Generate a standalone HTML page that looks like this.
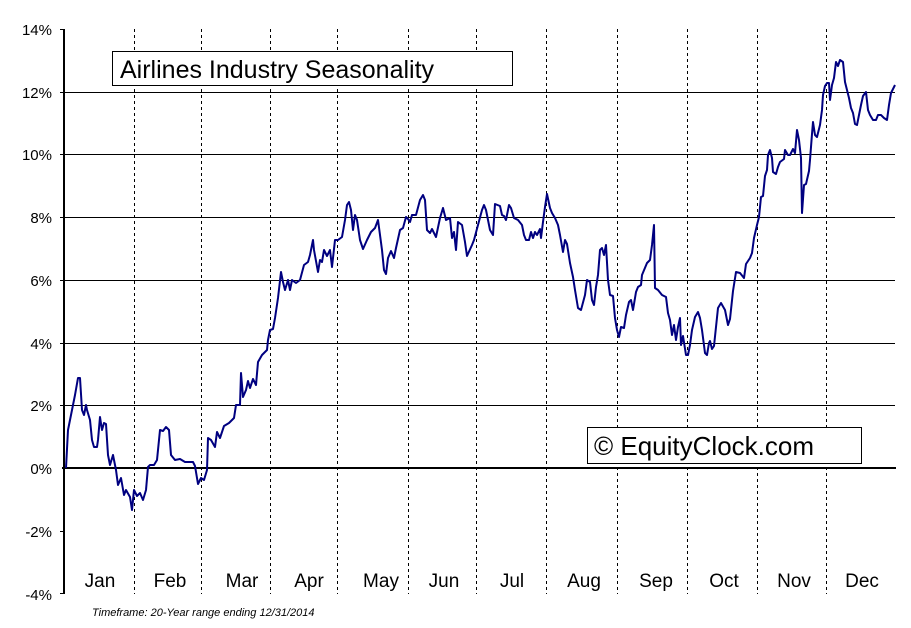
<!DOCTYPE html>
<html><head><style>
body{margin:0;background:#fff;}
svg text{font-family:"Liberation Sans",Arial,sans-serif;}
</style></head><body>
<svg width="911" height="623" viewBox="0 0 911 623" xmlns="http://www.w3.org/2000/svg">
<rect width="911" height="623" fill="#fff"/>
<g stroke="#000" stroke-width="1" stroke-dasharray="3,3" shape-rendering="crispEdges">
<line x1="134.5" y1="29" x2="134.5" y2="594"/><line x1="201.5" y1="29" x2="201.5" y2="594"/><line x1="270.5" y1="29" x2="270.5" y2="594"/><line x1="337.5" y1="29" x2="337.5" y2="594"/><line x1="408.5" y1="29" x2="408.5" y2="594"/><line x1="476.5" y1="29" x2="476.5" y2="594"/><line x1="546.5" y1="29" x2="546.5" y2="594"/><line x1="617.5" y1="29" x2="617.5" y2="594"/><line x1="687.5" y1="29" x2="687.5" y2="594"/><line x1="757.5" y1="29" x2="757.5" y2="594"/><line x1="826.5" y1="29" x2="826.5" y2="594"/>
</g>
<g stroke="#000" stroke-width="1" shape-rendering="crispEdges">
<line x1="64" y1="92.5" x2="895" y2="92.5"/><line x1="64" y1="154.5" x2="895" y2="154.5"/><line x1="64" y1="217.5" x2="895" y2="217.5"/><line x1="64" y1="280.5" x2="895" y2="280.5"/><line x1="64" y1="343.5" x2="895" y2="343.5"/><line x1="64" y1="405.5" x2="895" y2="405.5"/>
<line x1="60" y1="29.5" x2="64" y2="29.5"/><line x1="60" y1="92.5" x2="64" y2="92.5"/><line x1="60" y1="154.5" x2="64" y2="154.5"/><line x1="60" y1="217.5" x2="64" y2="217.5"/><line x1="60" y1="280.5" x2="64" y2="280.5"/><line x1="60" y1="343.5" x2="64" y2="343.5"/><line x1="60" y1="405.5" x2="64" y2="405.5"/><line x1="60" y1="531.5" x2="64" y2="531.5"/><line x1="60" y1="593.5" x2="64" y2="593.5"/>
</g>
<line x1="64" y1="29" x2="64" y2="594" stroke="#000" stroke-width="2" shape-rendering="crispEdges"/>
<line x1="62" y1="468" x2="896" y2="468" stroke="#000" stroke-width="2" shape-rendering="crispEdges"/>
<g font-size="15" text-anchor="end" fill="#000">
<text x="52" y="35">14%</text><text x="52" y="98">12%</text><text x="52" y="160">10%</text><text x="52" y="223">8%</text><text x="52" y="286">6%</text><text x="52" y="349">4%</text><text x="52" y="411">2%</text><text x="52" y="474">0%</text><text x="52" y="537">-2%</text><text x="52" y="600">-4%</text>
</g>
<g font-size="19" text-anchor="middle" fill="#000">
<text x="100" y="587">Jan</text><text x="170" y="587">Feb</text><text x="242" y="587">Mar</text><text x="309" y="587">Apr</text><text x="381" y="587">May</text><text x="444" y="587">Jun</text><text x="512" y="587">Jul</text><text x="584" y="587">Aug</text><text x="656" y="587">Sep</text><text x="724" y="587">Oct</text><text x="794" y="587">Nov</text><text x="862" y="587">Dec</text>
</g>
<text x="92" y="616" font-size="11" font-style="italic">Timeframe: 20-Year range ending 12/31/2014</text>
<rect x="112.5" y="51.5" width="400" height="34" fill="#fff" stroke="#000"/>
<text x="120" y="78" font-size="25">Airlines Industry Seasonality</text>
<rect x="587.5" y="427.5" width="274" height="36" fill="#fff" stroke="#000"/>
<text x="594" y="455" font-size="26">© EquityClock.com</text>
<polyline fill="none" stroke="#000080" stroke-width="2" stroke-linejoin="round" points="66,468 68,430 72,410 75,395 78,378 80,378 82,410 84,415 86,405 87,410 90,420 92,440 94,447 97,447 98,440 100,417 102,430 104,423 106,424 108,455 110,465 113,455 116,470 118,485 121,478 124,495 126,490 130,497 132,510 134,490 137,496 140,493 143,500 146,490 148,467 150,465 154,465 157,460 160,430 163,431 166,427 169,430 171,455 175,460 180,459 185,462 193,462 195,466 198,484 201,478 204,480 207,470 208,438 211,440 215,447 217,432 220,438 224,426 229,423 234,418 236,405 240,405 241,373 243,397 246,390 248,381 250,388 253,379 256,385 258,362 262,355 267,350 268,340 270,330 273,329 275,318 278,298 281,272 283,282 285,290 288,280 290,290 292,280 296,283 300,280 304,265 308,262 310,255 313,240 314,250 318,272 320,260 322,262 324,250 327,256 330,250 332,267 335,240 338,240 342,237 345,220 347,205 349,202 351,210 353,230 355,215 357,220 360,240 363,249 367,240 371,232 375,228 378,220 382,250 384,270 386,274 388,258 391,251 394,258 396,248 400,230 403,228 406,217 408,219 410,222 412,215 416,215 420,200 423,195 425,200 427,230 430,233 432,229 436,237 440,218 443,208 446,220 450,218 452,238 454,232 456,250 458,222 462,225 465,242 467,256 472,245 474,240 478,225 482,210 484,205 486,210 490,230 493,235 495,204 500,206 502,215 504,216 506,220 509,205 511,208 514,218 518,220 522,225 524,235 526,240 529,240 531,232 533,238 535,232 537,235 540,229 541,238 543,222 545,207 547,194 550,208 552,213 555,218 558,225 560,235 563,252 565,240 567,244 570,263 573,277 575,290 578,308 581,310 585,295 587,280 590,282 592,300 594,305 596,287 598,275 600,250 602,248 604,255 606,245 608,280 610,295 613,296 615,318 617,330 619,337 621,327 624,328 626,315 629,302 631,300 633,310 636,292 638,287 641,285 642,275 647,263 650,260 652,245 654,225 655,288 658,290 662,295 666,297 668,313 670,320 672,335 674,325 676,340 678,327 680,318 681,345 683,336 686,355 688,355 690,345 692,330 695,317 698,312 700,318 702,330 705,353 707,355 709,343 710,341 712,349 714,346 716,327 718,308 721,303 725,310 728,325 730,319 733,291 736,272 740,273 744,278 746,264 750,258 752,253 754,238 757,225 759,217 761,197 763,196 765,176 767,170 768,155 770,150 772,158 773,172 776,174 778,167 780,162 784,159 785,150 788,155 790,155 793,149 795,153 797,130 799,140 801,158 802,213 804,185 806,184 809,171 810,160 812,134 813,122 815,135 817,137 820,125 822,110 823,95 825,86 827,83 829,83 830,100 832,85 834,78 836,62 838,66 840,60 843,62 845,82 847,90 849,98 851,108 853,113 855,124 857,125 859,115 861,105 863,96 866,92 868,110 870,115 873,120 876,120 878,115 881,115 884,118 887,120 889,105 891,93 895,85"/>
</svg>
</body></html>
